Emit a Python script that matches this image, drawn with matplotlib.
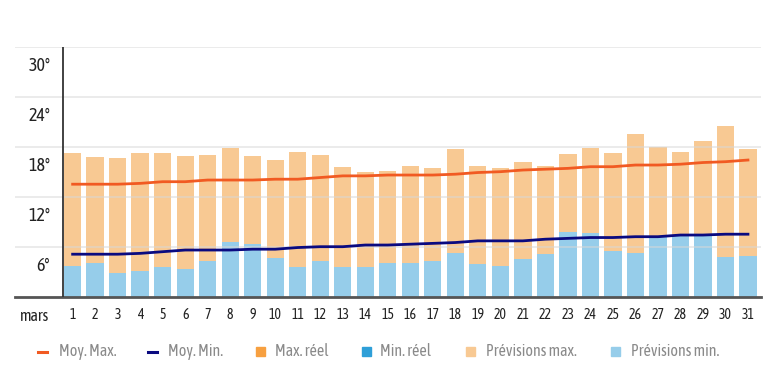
import matplotlib.pyplot as plt
from matplotlib.patches import Rectangle
from matplotlib.lines import Line2D

# condensed face, close to the one on the site
plt.rcParams['font.family'] = ['Asap Condensed', 'DejaVu Sans']

# days of March
days = list(range(1, 32))

# forecast max / min (°C)
prev_max = [17.2, 16.8, 16.6, 17.2, 17.2, 16.9, 17.0, 17.8, 16.9, 16.4,
            17.4, 17.0, 15.6, 15.0, 15.1, 15.7, 15.4, 17.7, 15.7, 15.4,
            16.2, 15.7, 17.1, 17.8, 17.2, 19.5, 18.0, 17.4, 18.7, 20.5, 17.7]
prev_min = [3.7, 4.0, 2.8, 3.1, 3.6, 3.3, 4.3, 6.6, 6.3, 4.6,
            3.6, 4.3, 3.6, 3.6, 4.0, 4.0, 4.3, 5.2, 3.9, 3.7,
            4.5, 5.1, 7.8, 7.7, 5.5, 5.3, 7.2, 7.3, 7.3, 4.8, 4.9]

# seasonal averages
moy_max = [13.5, 13.5, 13.5, 13.6, 13.8, 13.8, 14.0, 14.0, 14.0, 14.1,
           14.1, 14.3, 14.5, 14.5, 14.6, 14.6, 14.6, 14.7, 14.9, 15.0,
           15.2, 15.3, 15.4, 15.6, 15.6, 15.8, 15.8, 15.9, 16.1, 16.2, 16.4]
moy_min = [5.1, 5.1, 5.1, 5.2, 5.4, 5.6, 5.6, 5.6, 5.7, 5.7,
           5.9, 6.0, 6.0, 6.2, 6.2, 6.3, 6.4, 6.5, 6.7, 6.7,
           6.7, 6.9, 7.0, 7.1, 7.1, 7.2, 7.2, 7.4, 7.4, 7.5, 7.5]

y_ticks = [6, 12, 18, 24, 30]

c_max_line = '#f15a22'
c_min_line = '#0a0a80'
c_max_reel = '#f7a040'
c_min_reel = '#2e9fd8'
c_prev_max = '#f8c993'
c_prev_min = '#96cdea'

fig = plt.figure(figsize=(7.79, 3.83), dpi=100)
ax = fig.add_axes([15 / 779, 1 - 296.7 / 383, 746 / 779, 250 / 383])
ax.set_xlim(-1.56, 31.58)
ax.set_ylim(0, 30)
for s in ax.spines.values():
    s.set_visible(False)

ax.bar(days, prev_max, width=0.77, color=c_prev_max, zorder=1)
ax.bar(days, prev_min, width=0.77, color=c_prev_min, zorder=2)

# gridlines (faint, over the bars)
for v in y_ticks:
    ax.axhline(v, color='#d8d8d8', lw=1.2, alpha=0.6, zorder=3)
    ax.text(0, v - 2.3, f'{v}°', ha='right', va='center', fontsize=13,
            color='#222222')

ax.plot(days, moy_max, color=c_max_line, lw=2, zorder=4)
ax.plot(days, moy_min, color=c_min_line, lw=2, zorder=4)

ax.axhline(0, color='#555555', lw=2, zorder=5, clip_on=False)
ax.plot([0.56, 0.56], [0, 30], color='#333333', lw=1.3, zorder=5)

ax.set_yticks([])
ax.set_xticks([-0.72] + days)
ax.set_xticklabels(['mars'] + [str(d) for d in days], fontsize=10,
                   color='#222222')
ax.tick_params(axis='x', length=0, pad=8)
ax.get_xticklabels()[0].set_fontsize(11.5)

# legend, drawn by hand to follow the original spacing
leg_y = 1 - 351.7 / 383
items = [
    ('line', c_max_line, 42.8, 59.3, 'Moy. Max.'),
    ('line', c_min_line, 152.8, 168.3, 'Moy. Min.'),
    ('sq', c_max_reel, 260, 275, 'Max. réel'),
    ('sq', c_min_reel, 366.7, 380, 'Min. réel'),
    ('sq', c_prev_max, 470, 486, 'Prévisions max.'),
    ('sq', c_prev_min, 615.5, 631, 'Prévisions min.'),
]
for kind, col, mx, tx, label in items:
    if kind == 'line':
        fig.add_artist(Line2D([(mx - 4.5) / 779, (mx + 4.5) / 779],
                              [leg_y, leg_y], color=col, lw=2.2,
                              transform=fig.transFigure))
    else:
        fig.add_artist(Rectangle(((mx - 4.5) / 779, leg_y - 4.5 / 383),
                                 9 / 779, 9 / 383, color=col,
                                 transform=fig.transFigure))
    fig.text(tx / 779, leg_y, label, ha='left', va='center', fontsize=11.5,
             color='#8a8a8a')

fig.savefig('out.png', dpi=100)
